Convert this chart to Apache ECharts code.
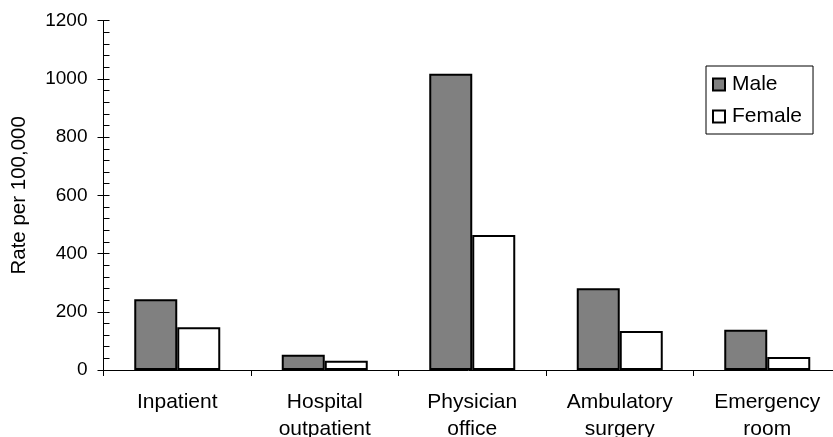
<!DOCTYPE html>
<html>
<head>
<meta charset="utf-8">
<script src="https://cdn.jsdelivr.net/npm/echarts@6/dist/echarts.min.js"></script>
<style>
html,body{margin:0;padding:0;background:#fff;}
#chart{width:833px;height:437px;}
</style>
</head>
<body>
<div id="chart"></div>
<script>
var categories = ['Inpatient', 'Hospital\noutpatient', 'Physician\noffice', 'Ambulatory\nsurgery', 'Emergency\nroom'];
var maleValues = [243, 52, 1018, 281, 138];
var femaleValues = [147, 32, 464, 134, 45];
var yTicks = [0, 200, 400, 600, 800, 1000, 1200];

var FONT = 'Liberation Sans, Arial, sans-serif';
var chart = echarts.init(document.getElementById('chart'));
var yMin = yTicks[0], yMax = yTicks[yTicks.length - 1], yStep = yTicks[1] - yTicks[0];

chart.setOption({
  animation: false,
  backgroundColor: '#fff',
  textStyle: { fontFamily: FONT },
  grid: { left: 103.5, right: -8, top: 20.7, bottom: 67, containLabel: false, outerBoundsMode: 'none' },
  legend: {
    orient: 'vertical',
    left: 706, top: 66,
    padding: [8, 11, 7, 6],
    itemWidth: 12, itemHeight: 12,
    itemGap: 11,
    borderColor: '#000', borderWidth: 1,
    textStyle: { fontFamily: FONT, fontSize: 21, color: '#000', padding: [0, 0, 0, 2] },
    icon: 'rect',
    data: ['Male', 'Female']
  },
  xAxis: {
    type: 'category',
    data: categories,
    axisLine: { lineStyle: { color: '#000', width: 1 } },
    axisTick: { show: true, length: 6, lineStyle: { color: '#000' } },
    axisLabel: { fontFamily: FONT, fontSize: 21, color: '#000', margin: 19, lineHeight: 27, interval: 0, hideOverlap: false }
  },
  yAxis: [{
    type: 'value', min: yMin, max: yMax, interval: yStep,
    axisLine: { show: true, lineStyle: { color: '#000' } },
    axisTick: { show: true, length: 6, lineStyle: { color: '#000' } },
    axisLabel: { fontFamily: FONT, fontSize: 19, color: '#000', margin: 16, formatter: function (v) { return String(v); } },
    splitLine: { show: false },
    name: 'Rate per 100,000',
    nameLocation: 'middle',
    nameGap: 74,
    nameTextStyle: { fontFamily: FONT, fontSize: 20.5, color: '#000' }
  }, {
    type: 'value', min: yMin, max: yMax, interval: yStep,
    position: 'left', offset: 0,
    axisLine: { show: true, lineStyle: { color: '#000' } },
    axisTick: { show: true, inside: true, length: 6, lineStyle: { color: '#000' } },
    minorTick: { show: true, splitNumber: 5, length: 6, lineStyle: { color: '#000' } },
    axisLabel: { show: false },
    splitLine: { show: false }
  }],
  series: [{
    name: 'Male', type: 'bar', data: maleValues,
    barWidth: 43, barGap: '0%',
    itemStyle: { color: '#808080', borderColor: '#000', borderWidth: 2 }
  }, {
    name: 'Female', type: 'bar', data: femaleValues,
    barWidth: 43, barGap: '0%',
    itemStyle: { color: '#fff', borderColor: '#000', borderWidth: 2 }
  }]
});
</script>
</body>
</html>
